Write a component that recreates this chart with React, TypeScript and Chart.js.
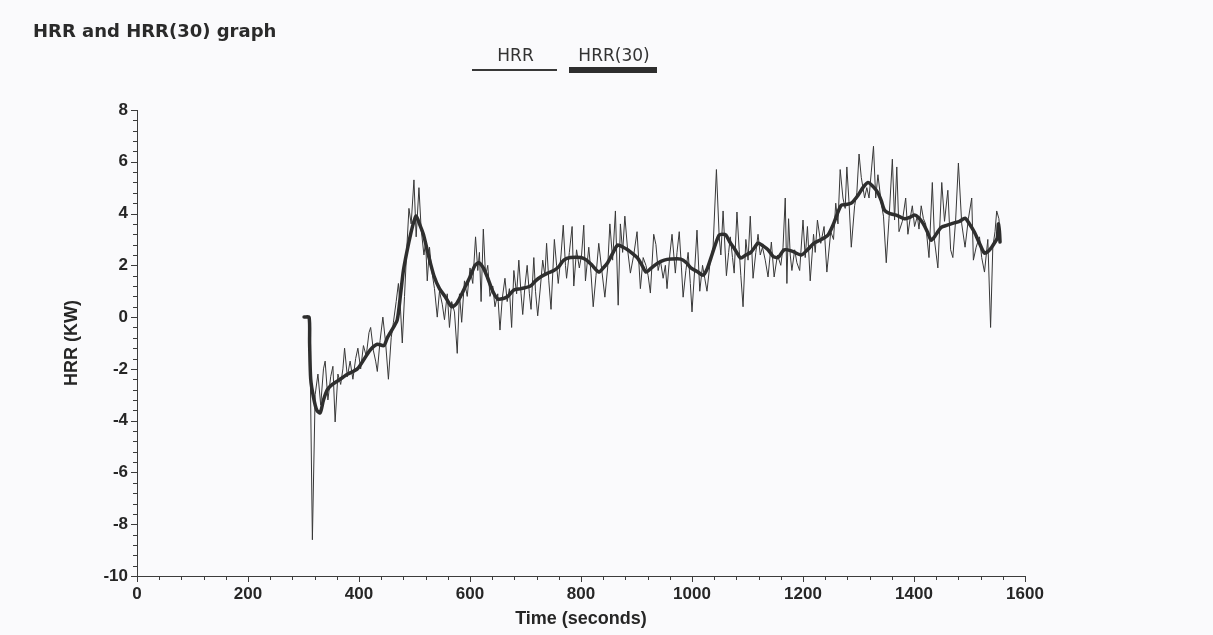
import React, { useEffect, useRef } from "react";
import { Chart, registerables } from "chart.js";

Chart.register(...registerables);

const chartTitle = "HRR and HRR(30) graph";
const seriesLabels = ["HRR", "HRR(30)"];
const xAxisTitle = "Time (seconds)";
const yAxisTitle = "HRR (KW)";

// HRR (raw, thin line)
const hrrTime = [
  301, 306, 311, 316, 321, 326, 331, 336, 339, 344, 349, 353, 357, 362, 367, 371, 374, 379, 384, 389,
  394, 398, 403, 408, 413, 418, 421, 426, 430, 433, 438, 443, 448, 453, 458, 462, 467, 471, 475, 478,
  482, 486, 490, 494, 499, 503, 508, 512, 517, 520, 523, 527, 531, 536, 541, 545, 550, 554, 559, 563,
  567, 572, 577, 581, 585, 590, 595, 600, 605, 610, 614, 617, 620, 624, 628, 632, 636, 641, 645, 650,
  654, 658, 663, 667, 671, 675, 679, 684, 688, 692,
  695, 699, 703, 707, 710, 715, 718, 722, 727, 731, 735, 738, 742, 746, 752, 756, 759, 764, 768, 772,
  774, 779, 784, 787, 792, 797, 801, 805, 808, 814, 818, 822, 827, 832, 837, 843, 848, 852, 857, 862,
  867, 871, 875, 879, 884, 889, 895, 901, 907, 912, 917, 921, 925, 931, 935, 939, 943, 948, 952, 955,
  960, 964, 970, 973, 977, 981, 984, 989, 993, 997, 1000, 1005, 1009, 1014, 1019, 1023, 1027, 1033, 1038, 1044,
  1049, 1052, 1056, 1062, 1066, 1069, 1073, 1076, 1081, 1085, 1088, 1092, 1097, 1101, 1105, 1110, 1115, 1119, 1123, 1127,
  1132, 1137, 1143, 1148, 1154,
  1160, 1164, 1168, 1171, 1174, 1177, 1180, 1185, 1189, 1194, 1200, 1204, 1208, 1213, 1219, 1222, 1226, 1232, 1238, 1243,
  1250, 1255, 1259, 1263, 1267, 1272, 1276, 1279, 1283, 1287, 1293, 1297, 1301, 1305, 1311, 1315, 1319, 1323, 1327, 1331,
  1335, 1341, 1345, 1350, 1355, 1361, 1365, 1369, 1373, 1379, 1385, 1389, 1393, 1397, 1401, 1406, 1409, 1413, 1417, 1421,
  1427, 1433, 1437, 1443, 1450, 1455, 1461, 1466, 1470, 1475, 1480, 1486, 1492, 1498, 1504, 1507, 1512, 1518, 1522, 1527,
  1533, 1538, 1542, 1546, 1549, 1553, 1556,
];
const hrrValue = [
  0, 0, 0, -8.6, -3.0, -2.2, -3.4, -2.0, -1.7, -3.2, -2.3, -1.9, -4.05, -2.2, -2.6, -2.0, -1.2, -2.3, -1.7, -2.4,
  -1.6, -1.2, -2.0, -1.1, -1.5, -0.6, -0.4, -1.3, -1.7, -2.1, -0.9, 0.0, -1.0, -2.4, -0.8, -0.2, 0.6, 1.3, 0.2, -1.0,
  0.8, 2.6, 4.2, 3.6, 5.3, 3.1, 5.0, 3.4, 2.4, 2.9, 1.4, 2.7, 1.8, 1.1, 0.0, 1.0, 0.5, -0.1, 0.9, -0.4,
  0.6, 0.2, -1.4, 0.9, -0.2, 1.4, 0.8, 1.9, 1.3, 3.1, 1.8, 2.5, 0.6, 3.4, 1.6, 2.0, 0.8, 1.2, 0.4, 0.9,
  -0.5, 0.7, 1.5, 0.6, 1.1, -0.4, 1.8, 0.9, 2.2, 0.9,
  0.1, 1.2, 2.0, 0.9, 0.3, 2.3, 1.0, 0.05, 1.2, 2.2, 1.6, 2.85, 1.4, 0.3, 3.0, 2.0, 1.3, 2.4, 3.55, 2.0,
  1.5, 2.5, 3.5, 1.2, 2.6, 1.9, 2.4, 3.55, 1.4, 2.7, 1.7, 0.4, 1.6, 2.85, 1.9, 0.77, 1.9, 3.6, 2.2, 4.1,
  0.46, 3.6, 2.5, 3.9, 2.6, 1.7, 2.4, 3.3, 1.1, 2.3, 2.0, 1.6, 0.93, 3.2, 2.8, 1.8, 2.2, 1.5, 2.0, 1.1,
  2.4, 3.2, 1.7, 2.5, 3.3, 1.9, 0.77, 1.8, 2.5, 1.3, 0.2, 1.9, 3.36, 1.0, 2.0, 1.5, 1.0, 2.2, 2.7, 5.7,
  3.1, 2.4, 4.1, 1.6, 2.5, 3.1, 2.3, 1.7, 4.06, 2.6, 1.6, 0.4, 3.0, 2.2, 3.9, 1.5, 2.5, 3.2, 2.4, 2.7,
  2.2, 1.55, 2.9, 1.55, 2.4,
  2.0, 2.7, 4.6, 1.3, 3.8, 2.4, 1.8, 2.6, 2.1, 1.8, 3.75, 2.3, 3.5, 1.4, 3.2, 2.5, 3.75, 2.85, 3.5, 1.74,
  3.3, 3.0, 4.4, 3.6, 5.7, 4.6, 4.2, 5.8, 4.4, 2.7, 4.3, 4.8, 6.3, 5.4, 4.6, 5.0, 4.6, 5.6, 6.6, 4.6,
  5.5, 4.4, 3.9, 2.1, 3.8, 6.1, 3.75, 5.8, 3.3, 3.7, 4.6, 3.2, 3.8, 4.3, 3.5, 3.9, 3.4, 4.3, 3.8, 3.6,
  2.3, 5.2, 2.95, 1.9, 5.2, 3.7, 4.9, 2.6, 2.3, 3.75, 5.95, 3.6, 2.7, 3.8, 4.6, 2.2, 2.7, 3.1, 2.3, 1.74,
  3.0, -0.4, 2.7, 3.3, 4.1, 3.8, 2.9,
];

// HRR(30) (30-second average, thick line)
const hrr30Time = [
  301, 310, 311, 313, 318, 324, 330, 336, 343, 352, 366, 380, 397, 410, 421, 433, 445, 451, 462, 469,
  475, 480, 487, 493, 499, 503, 509, 516, 525, 535, 545, 555, 567, 575, 583, 592, 601, 609, 616, 624,
  632, 641, 650, 660, 668, 679, 692, 709, 718, 727, 740, 751, 760, 769, 781, 800, 810, 820, 832, 840,
  848, 858, 866, 876, 884, 893, 902, 910, 917, 927, 938, 950, 962, 980, 990, 998, 1010, 1020, 1027, 1034,
  1042, 1049, 1055, 1061, 1068, 1076, 1082, 1088, 1097, 1106, 1113, 1119, 1128, 1137, 1146, 1155, 1166, 1180, 1197, 1208,
  1220, 1233, 1245, 1254, 1262, 1269, 1278, 1287, 1299, 1308, 1317, 1326, 1335, 1341, 1347, 1357, 1368, 1383, 1392, 1401,
  1408, 1416, 1424, 1431, 1440, 1449, 1460, 1471, 1482, 1492, 1500, 1509, 1518, 1527, 1534, 1540, 1546, 1550, 1552, 1554,
  1555,
];
const hrr30Value = [
  0, 0, -1.0, -2.4, -3.1, -3.6, -3.7, -3.2, -2.8, -2.6, -2.4, -2.2, -2.0, -1.6, -1.25, -1.05, -1.1, -0.8, -0.4, -0.1,
  0.9, 1.8, 2.6, 3.2, 3.7, 3.9, 3.6, 3.2, 2.4, 1.6, 1.1, 0.8, 0.4, 0.5, 0.8, 1.2, 1.6, 2.0, 2.1, 1.9,
  1.5, 1.0, 0.7, 0.72, 0.8, 1.05, 1.1, 1.2, 1.4, 1.55, 1.7, 1.8, 1.95, 2.2, 2.3, 2.3, 2.2, 2.0, 1.74, 1.9,
  2.1, 2.5, 2.78, 2.7, 2.6, 2.45, 2.28, 2.0, 1.74, 1.9, 2.08, 2.2, 2.24, 2.24, 2.1, 1.9, 1.75, 1.62, 1.85, 2.28,
  2.8, 3.17, 3.2, 3.17, 2.9, 2.66, 2.45, 2.28, 2.4, 2.5, 2.7, 2.86, 2.75, 2.6, 2.35, 2.3, 2.6, 2.55, 2.4, 2.6,
  2.86, 3.0, 3.17, 3.55, 4.0, 4.32, 4.35, 4.4, 4.7, 5.0, 5.2, 5.05, 4.8, 4.5, 4.13, 4.0, 3.94, 3.8, 3.85, 3.94,
  3.85, 3.63, 3.3, 2.97, 3.2, 3.47, 3.55, 3.63, 3.7, 3.82, 3.6, 3.28, 2.85, 2.47, 2.55, 2.7, 2.9, 3.05, 3.6, 3.3,
  2.9,
];

const xMin = 0;
const xMax = 1600;
const xMajorStep = 200;
const xMinorStep = 40;
const yMin = -10;
const yMax = 8;
const yMajorStep = 2;
const yMinorStep = 0.4;

const BG = "#fafafc";
const INK = "#262626";
const AXIS = "#3c3c3c";

const toPoints = (xs: number[], ys: number[]) => xs.map((x, i) => ({ x, y: ys[i] }));

const decorPlugin = {
  id: "decor",
  beforeDraw(chart: any) {
    const ctx = chart.ctx;
    ctx.save();
    ctx.fillStyle = BG;
    ctx.fillRect(0, 0, chart.width, chart.height);
    ctx.restore();
  },
  afterDraw(chart: any) {
    const ctx: CanvasRenderingContext2D = chart.ctx;
    const { chartArea } = chart;
    const xs = chart.scales.x;
    const ys = chart.scales.y;
    ctx.save();

    // tick marks (major + minor)
    ctx.strokeStyle = AXIS;
    ctx.lineWidth = 1;
    ctx.beginPath();
    const nX = Math.round((xMax - xMin) / xMinorStep);
    for (let i = 0; i <= nX; i++) {
      const v = xMin + i * xMinorStep;
      const major = Math.abs(v / xMajorStep - Math.round(v / xMajorStep)) < 1e-6;
      const px = Math.round(xs.getPixelForValue(v)) + 0.5;
      ctx.moveTo(px, chartArea.bottom);
      ctx.lineTo(px, chartArea.bottom + (major ? 6 : 4));
    }
    const nY = Math.round((yMax - yMin) / yMinorStep);
    for (let i = 0; i <= nY; i++) {
      const v = yMin + i * yMinorStep;
      const major = Math.abs(v / yMajorStep - Math.round(v / yMajorStep)) < 1e-6;
      const py = Math.round(ys.getPixelForValue(v)) + 0.5;
      ctx.moveTo(chartArea.left, py);
      ctx.lineTo(chartArea.left - (major ? 6 : 4), py);
    }
    ctx.stroke();

    // title
    ctx.fillStyle = "#2a2a2a";
    ctx.font = "bold 18px 'DejaVu Sans'";
    ctx.textAlign = "left";
    ctx.textBaseline = "alphabetic";
    ctx.fillText(chartTitle, 33, 37);

    // legend: text above a line sample
    const legendItems = [
      { x0: 472, x1: 557, lw: 2 },
      { x0: 569, x1: 657, lw: 6 },
    ];
    ctx.font = "17px 'DejaVu Sans'";
    ctx.textAlign = "center";
    chart.data.datasets.forEach((ds: any, i: number) => {
      const it = legendItems[i];
      ctx.fillStyle = "#333333";
      ctx.fillText(ds.label, (it.x0 + it.x1) / 2 + 1, 61);
      ctx.strokeStyle = ds.borderColor;
      ctx.lineWidth = it.lw;
      ctx.beginPath();
      ctx.moveTo(it.x0, 70);
      ctx.lineTo(it.x1, 70);
      ctx.stroke();
    });
    ctx.restore();
  },
};

export default function App() {
  const canvasRef = useRef<HTMLCanvasElement | null>(null);

  useEffect(() => {
    if (!canvasRef.current) return;
    const chart = new Chart(canvasRef.current, {
      type: "line",
      data: {
        datasets: [
          {
            label: seriesLabels[0],
            data: toPoints(hrrTime, hrrValue),
            borderColor: "#383838",
            borderWidth: 1,
            pointRadius: 0,
            tension: 0,
            order: 2,
          },
          {
            label: seriesLabels[1],
            data: toPoints(hrr30Time, hrr30Value),
            borderColor: "#2e2e2e",
            borderWidth: 3.5,
            pointRadius: 0,
            tension: 0.25,
            borderJoinStyle: "round",
            borderCapStyle: "round",
            order: 1,
          },
        ],
      },
      options: {
        responsive: false,
        animation: false,
        events: [],
        layout: { padding: { left: 0, right: 188, top: 110, bottom: 0 } },
        plugins: {
          legend: { display: false },
          title: { display: false },
          tooltip: { enabled: false },
        },
        scales: {
          x: {
            type: "linear",
            min: xMin,
            max: xMax,
            afterFit: (s: any) => {
              s.height = 59;
            },
            border: { display: true, color: AXIS, width: 1 },
            grid: { display: true, drawOnChartArea: false, drawTicks: false },
            ticks: {
              stepSize: xMajorStep,
              padding: 8,
              color: INK,
              font: { family: "'Liberation Sans', Arial", size: 17, weight: "bold" },
              callback: (v: any) => String(v),
            },
            title: {
              display: true,
              text: xAxisTitle,
              color: INK,
              font: { family: "'Liberation Sans', Arial", size: 18, weight: "bold" },
              padding: { top: 0, bottom: 5 },
            },
          },
          y: {
            type: "linear",
            min: yMin,
            max: yMax,
            afterFit: (s: any) => {
              s.width = 137;
            },
            border: { display: true, color: AXIS, width: 1 },
            grid: { display: true, drawOnChartArea: false, drawTicks: false },
            ticks: {
              stepSize: yMajorStep,
              padding: 9,
              color: INK,
              font: { family: "'Liberation Sans', Arial", size: 17, weight: "bold" },
              callback: (v: any) => String(v),
            },
            title: {
              display: true,
              text: yAxisTitle,
              color: INK,
              font: { family: "'Liberation Sans', Arial", size: 18, weight: "bold" },
              padding: { top: 61, bottom: 0 },
            },
          },
        },
      },
      plugins: [decorPlugin],
    });
    return () => chart.destroy();
  }, []);

  return (
    <div style={{ position: "fixed", left: 0, top: 0, width: 1213, height: 635, background: BG }}>
      <canvas ref={canvasRef} width={1213} height={635} style={{ display: "block" }} />
    </div>
  );
}
